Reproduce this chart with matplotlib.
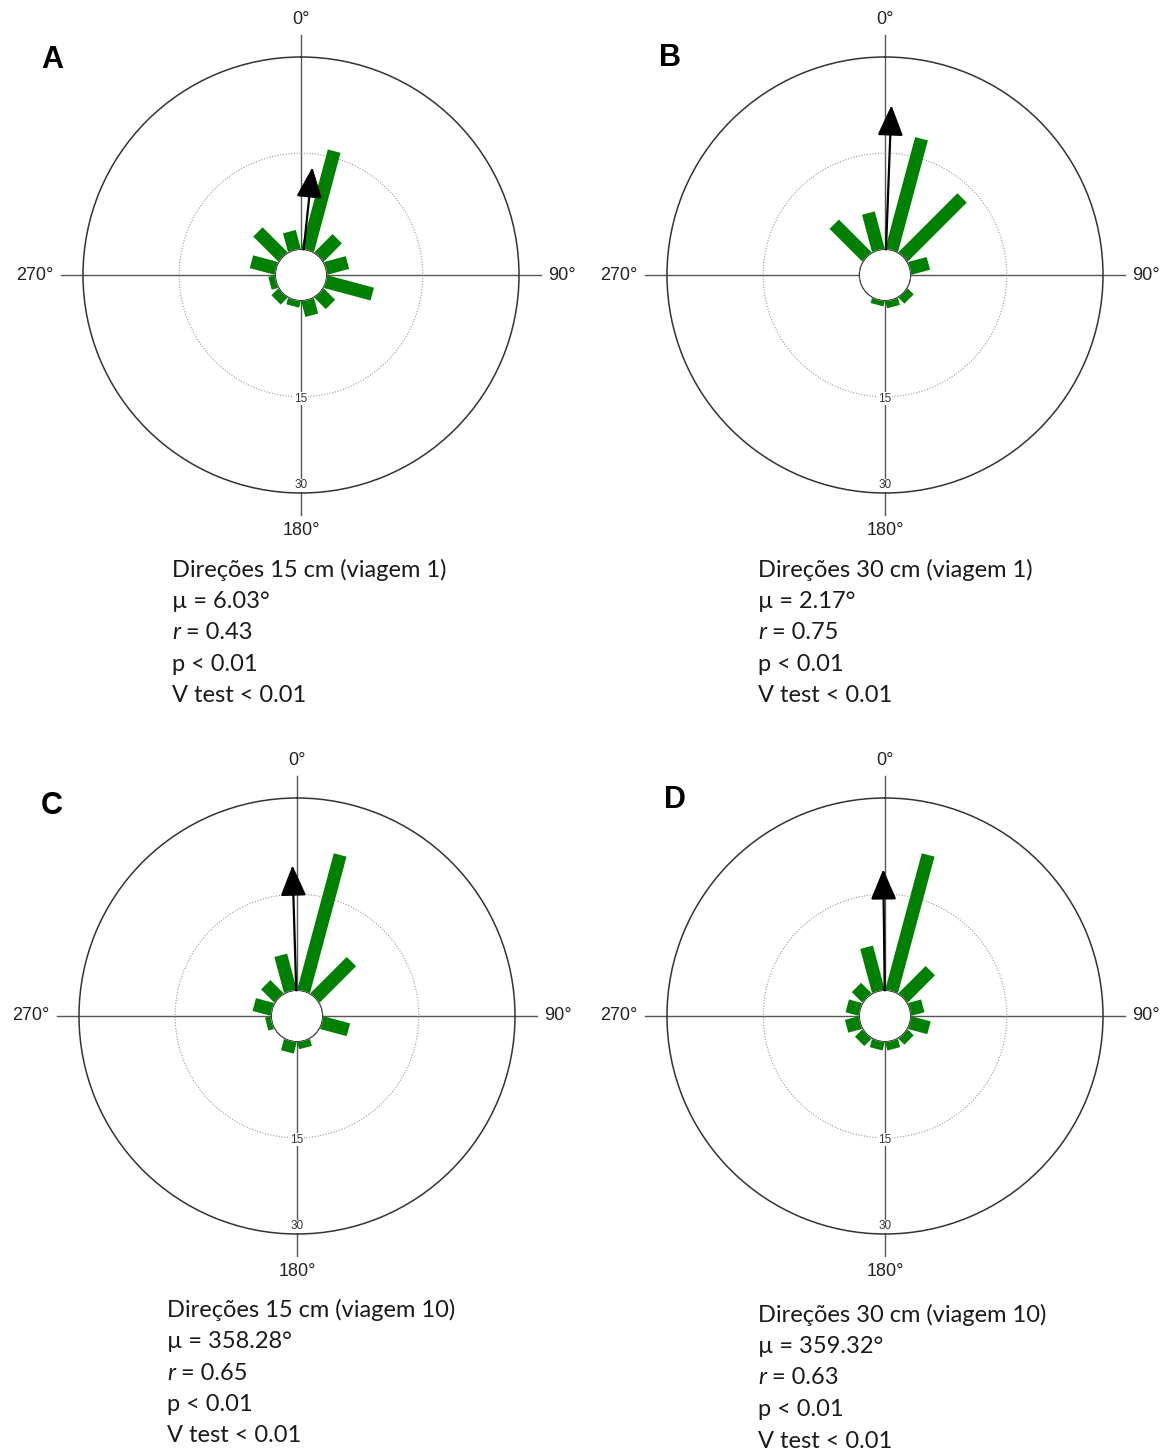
import numpy as np
import matplotlib.pyplot as plt

# bin centres (degrees) and bar lengths
bins = [15, 45, 75, 105, 135, 165, 195, 225, 255, 285, 315, 345]
counts_A = [16, 4, 3.5, 7.5, 2.5, 2.5, 1, 1.5, 1, 4, 5.5, 3]
counts_B = [18, 13, 3, 0, 1.3, 1.1, 0.8, 0, 0, 0, 7.2, 6]
counts_C = [22, 8, 0, 4.3, 0, 1.1, 1.8, 0, 0.9, 2.9, 2.9, 5.8]
counts_D = [22, 6, 2.1, 3.1, 1.3, 1.3, 1.3, 1.6, 2.2, 2.1, 2.3, 7.1]

letters = ["A", "B", "C", "D"]
mean_dir = [6.03, 2.17, 358.28, 359.32]
mean_r = [0.43, 0.75, 0.65, 0.63]
titles = ["Direções 15 cm (viagem 1)", "Direções 30 cm (viagem 1)",
          "Direções 15 cm (viagem 10)", "Direções 30 cm (viagem 10)"]
mu_txt = ["6.03°", "2.17°", "358.28°", "359.32°"]
r_txt = ["0.43", "0.75", "0.65", "0.63"]
p_txt = ["p < 0.01"] * 4
v_txt = ["V test < 0.01"] * 4
all_counts = [counts_A, counts_B, counts_C, counts_D]

W, H = 1169, 1452
RMAX = 30
R0 = 4.0
centers = [(301, 275), (885, 275), (297, 1016), (885, 1016)]
rad_px = 218
letter_pos = [(52, 60), (670, 58), (52, 806), (675, 800)]
text_pos = [(172, 570), (758, 570), (167, 1310), (758, 1315)]

fig = plt.figure(figsize=(W / 100, H / 100), dpi=100)
lab_font = "Liberation Sans"
txt_font = "Lato"

th_full = np.linspace(0, 2 * np.pi, 361)

for i in range(4):
    cx, cy = centers[i]
    ax = fig.add_axes([(cx - rad_px) / W, 1 - (cy + rad_px) / H,
                       2 * rad_px / W, 2 * rad_px / H], projection="polar")
    ax.set_theta_zero_location("N")
    ax.set_theta_direction(-1)
    ax.set_ylim(0, RMAX)
    ax.set_rorigin(-R0)
    ax.grid(False)
    ax.set_xticks([])
    ax.set_yticks([])
    ax.spines["polar"].set_color("#333333")
    ax.spines["polar"].set_linewidth(1.1)

    # crosshair
    for a in [0, 90, 180, 270]:
        ax.plot([np.deg2rad(a)] * 2, [0, 33.5], color="#555555", lw=1.0,
                clip_on=False, zorder=1)
    # dotted circle at 15
    ax.plot(th_full, np.full_like(th_full, 15), color="#9a9a9a", lw=0.8,
            ls=(0, (1, 1.5)), zorder=1)
    # inner hole edge
    ax.plot(th_full, np.zeros_like(th_full), color="#999999", lw=0.8, zorder=4)

    # bars
    th = np.deg2rad(bins)
    vals = np.array(all_counts[i], dtype=float)
    m = vals > 0
    ax.vlines(th[m], 0, vals[m], colors="#008000", lw=9.5, capstyle="butt",
              zorder=3)

    # mean vector
    t = np.deg2rad(mean_dir[i])
    ax.annotate("", xy=(t, mean_r[i] * RMAX), xytext=(t, 0),
                arrowprops=dict(arrowstyle="-|>,head_length=1.9,head_width=0.8",
                                color="black", lw=1.6, mutation_scale=10,
                                shrinkA=0, shrinkB=0), zorder=5)

    # radial labels
    for rv, rpos in [(15, 15.3), (30, 28.8)]:
        ax.text(np.pi, rpos, str(rv), ha="center", va="center", fontsize=8.5,
                family=lab_font, color="#333333", zorder=6,
                bbox=dict(facecolor="white", edgecolor="none", pad=0.5))

    # angle labels
    rl = 34.6
    afs = 13
    ax.text(0, rl, "0°", ha="center", va="bottom", fontsize=afs,
            family=lab_font, color="#222222", clip_on=False)
    ax.text(np.pi / 2, rl, "90°", ha="left", va="center", fontsize=afs,
            family=lab_font, color="#222222", clip_on=False)
    ax.text(np.pi, rl, "180°", ha="center", va="top", fontsize=afs,
            family=lab_font, color="#222222", clip_on=False)
    ax.text(3 * np.pi / 2, rl, "270°", ha="right", va="center", fontsize=afs,
            family=lab_font, color="#222222", clip_on=False)

    lx, ly = letter_pos[i]
    fig.text(lx / W, 1 - ly / H, letters[i], ha="center", va="center",
             fontsize=22, fontweight="bold", family=lab_font)

    # stats block
    tx, ty = text_pos[i]
    step = 31.5
    fs = 17
    col = "#1a1a1a"
    fig.text(tx / W, 1 - ty / H, titles[i], ha="left", va="center",
             fontsize=fs, family=txt_font, color=col)
    fig.text(tx / W, 1 - (ty + step) / H, "µ = " + mu_txt[i], ha="left",
             va="center", fontsize=fs, family=txt_font, color=col)
    fig.text(tx / W, 1 - (ty + 2 * step) / H, "r", ha="left", va="center",
             fontsize=fs, family=txt_font, style="italic", color=col)
    fig.text((tx + 14) / W, 1 - (ty + 2 * step) / H, "= " + r_txt[i],
             ha="left", va="center", fontsize=fs, family=txt_font, color=col)
    fig.text(tx / W, 1 - (ty + 3 * step) / H, p_txt[i], ha="left",
             va="center", fontsize=fs, family=txt_font, color=col)
    fig.text(tx / W, 1 - (ty + 4 * step) / H, v_txt[i], ha="left",
             va="center", fontsize=fs, family=txt_font, color=col)

fig.savefig("out.png", dpi=100, facecolor="white")
